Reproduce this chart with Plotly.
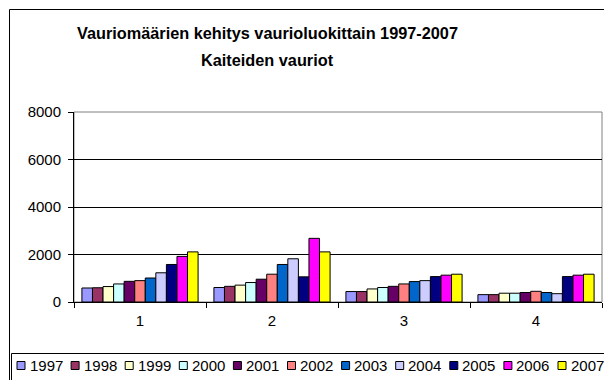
import plotly.graph_objects as go

# Damage classes on the x axis and the years shown as bar series
categories = ["1", "2", "3", "4"]
years = ["1997", "1998", "1999", "2000", "2001", "2002",
         "2003", "2004", "2005", "2006", "2007"]

# Number of damages per class, one list per year
s1997 = [590, 610, 440, 310]
s1998 = [600, 660, 440, 310]
s1999 = [650, 710, 550, 370]
s2000 = [760, 820, 610, 370]
s2001 = [870, 960, 660, 400]
s2002 = [900, 1170, 760, 450]
s2003 = [1010, 1580, 860, 400]
s2004 = [1230, 1820, 900, 350]
s2005 = [1580, 1060, 1070, 1070]
s2006 = [1920, 2680, 1130, 1130]
s2007 = [2110, 2110, 1170, 1170]
series = [s1997, s1998, s1999, s2000, s2001, s2002,
          s2003, s2004, s2005, s2006, s2007]

colors = ["#9999FF", "#993366", "#FFFFCC", "#CCFFFF", "#660066", "#FF8080",
          "#0066CC", "#CCCCFF", "#000080", "#FF00FF", "#FFFF00"]

title1 = "Vauriomäärien kehitys vaurioluokittain 1997-2007"
title2 = "Kaiteiden vauriot"

FONT = "Liberation Sans, Arial, sans-serif"
W, H = 604, 380
ML, MR, MT, MB = 74, 2, 112, 78
PW, PH = W - ML - MR, H - MT - MB


def px(x):
    return (x - ML) / PW


def py(y):
    return (H - MB - y) / PH


fig = go.Figure()
for name, vals, col in zip(years, series, colors):
    fig.add_trace(go.Bar(
        x=categories, y=vals, name=name,
        marker=dict(color=col, line=dict(color="black", width=1)),
    ))

shapes = []
annotations = []

# outer chart frame
shapes.append(dict(type="rect", xref="paper", yref="paper",
                   x0=px(9.5), x1=px(640), y0=py(9.5), y1=py(420),
                   line=dict(color="black", width=1), layer="below"))
# plot area border
shapes.append(dict(type="rect", xref="paper", yref="paper",
                   x0=0, x1=1, y0=0, y1=1,
                   line=dict(color="#808080", width=1), layer="below"))
# legend box
shapes.append(dict(type="rect", xref="paper", yref="paper",
                   x0=px(11.5), x1=px(640), y0=py(353.5), y1=py(420),
                   line=dict(color="black", width=1), layer="above"))

# legend entries
leg_x0, leg_step, leg_y = 17, 54.1, 365.5
for i, (name, col) in enumerate(zip(years, colors)):
    lx = leg_x0 + i * leg_step
    shapes.append(dict(type="rect", xref="paper", yref="paper",
                       x0=px(lx), x1=px(lx + 8), y0=py(leg_y - 4), y1=py(leg_y + 4),
                       fillcolor=col, line=dict(color="black", width=1), layer="above"))
    annotations.append(dict(text=name, xref="paper", yref="paper",
                            x=px(lx + 10.5), y=py(leg_y), xanchor="left", yanchor="middle",
                            showarrow=False, font=dict(family=FONT, size=15, color="black")))

# two-line title
annotations.append(dict(text="<b>" + title1 + "</b>", xref="paper", yref="paper",
                        x=px(267), y=py(33), xanchor="center", yanchor="middle",
                        showarrow=False, font=dict(family=FONT, size=16.3, color="black")))
annotations.append(dict(text="<b>" + title2 + "</b>", xref="paper", yref="paper",
                        x=px(267), y=py(60), xanchor="center", yanchor="middle",
                        showarrow=False, font=dict(family=FONT, size=16.3, color="black")))

fig.update_layout(
    width=W, height=H,
    margin=dict(l=ML, r=MR, t=MT, b=MB, pad=0),
    paper_bgcolor="white", plot_bgcolor="white",
    barmode="group", bargap=0.12, bargroupgap=0,
    showlegend=False,
    font=dict(family=FONT, size=15, color="black"),
    shapes=shapes, annotations=annotations,
    xaxis=dict(type="category", showline=True, linecolor="black", linewidth=1,
               ticks="outside", ticklen=5, tickcolor="black", tickson="boundaries",
               ticklabelstandoff=5,
               showgrid=False, tickfont=dict(family=FONT, size=15, color="black")),
    yaxis=dict(range=[0, 8000], dtick=2000, showline=True, linecolor="black", linewidth=1,
               ticks="outside", ticklen=5, tickcolor="black", showgrid=True,
               ticklabelstandoff=4,
               gridcolor="black", gridwidth=1, zeroline=False,
               tickfont=dict(family=FONT, size=15, color="black")),
)

fig.write_html("out.html")
